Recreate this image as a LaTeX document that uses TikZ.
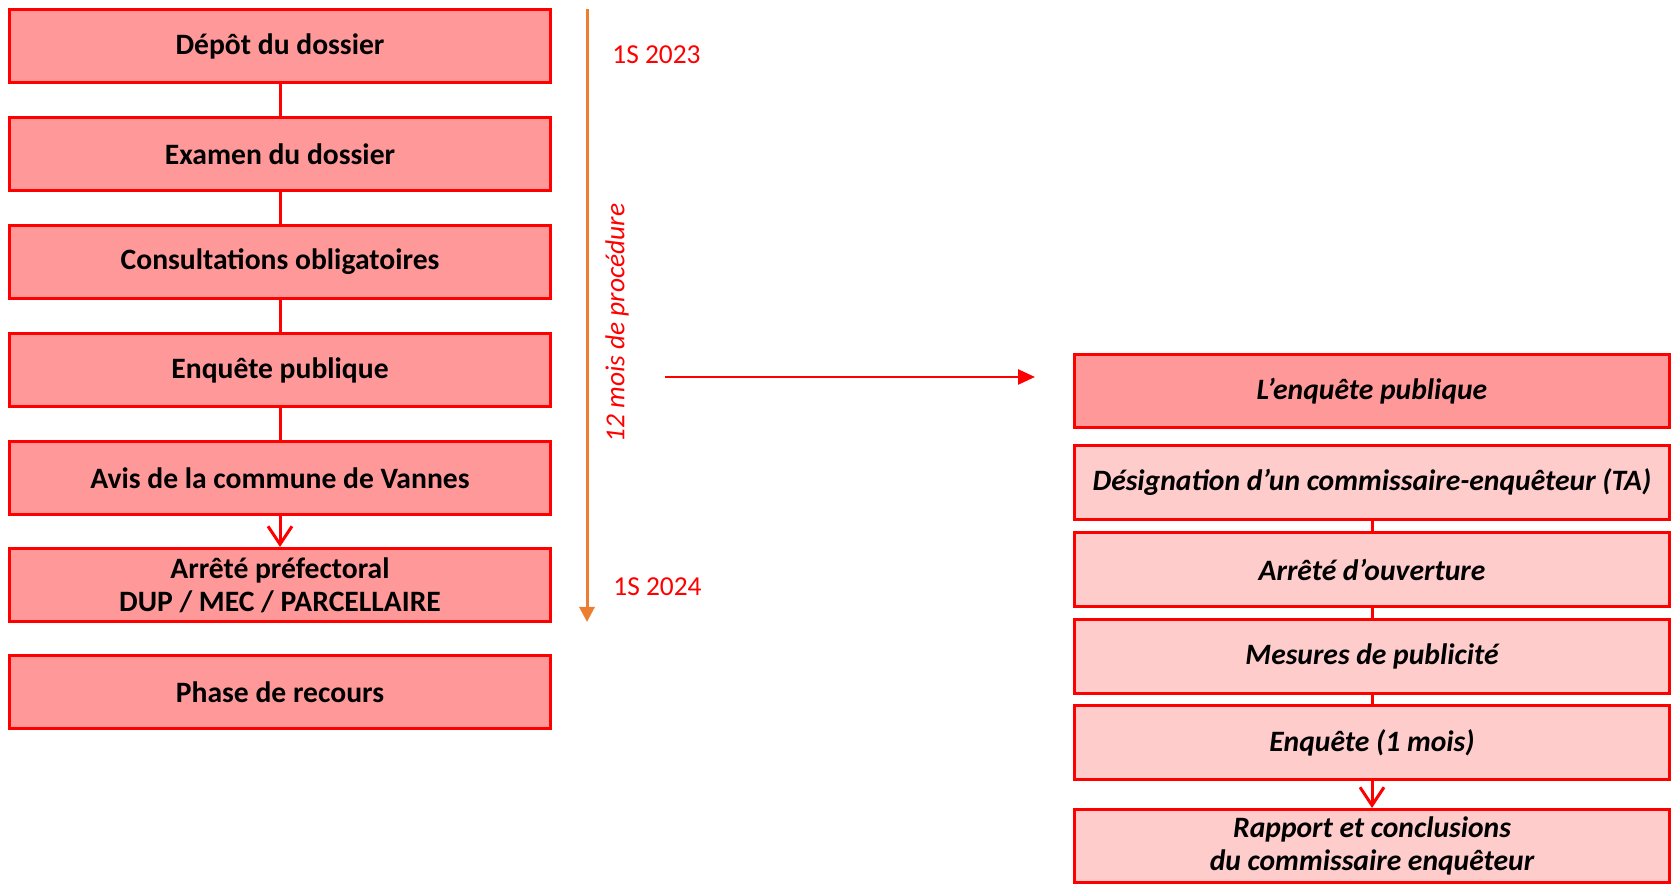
\documentclass[tikz,border=0pt]{standalone}
\usepackage{fontspec}
\setmainfont{Carlito}
\usetikzlibrary{arrows.meta}
\definecolor{rougeTrait}{RGB}{255,0,0}
\definecolor{roseFonce}{RGB}{255,153,153}
\definecolor{roseClair}{RGB}{255,204,204}
\definecolor{orangeDelai}{RGB}{237,125,49}
\tikzset{
  etape/.style={draw=rougeTrait, line width=1.5pt, fill=roseFonce, inner sep=0pt,
    minimum width=270.5pt, minimum height=36.5pt, align=center,
    font=\fontsize{14.8}{16.5}\selectfont\bfseries},
  sousetape/.style={etape, fill=roseClair, minimum width=297.5pt, minimum height=37pt,
    font=\fontsize{14.8}{16.5}\selectfont\bfseries\itshape},
  lien/.style={draw=rougeTrait, line width=1.5pt},
  lienfleche/.style={lien, -{Straight Barb[length=9pt,width=12pt]}},
  repere/.style={text=rougeTrait, inner sep=0pt, font=\fontsize{13.7}{16}\selectfont},
}
\begin{document}
\begin{tikzpicture}[x=0.5pt, y=-0.5pt]
    \useasboundingbox (0,0) rectangle (1672,886);
    \node[etape] (depot) at (280,46) {Dépôt du dossier};
    \node[etape] (examen) at (280,154) {Examen du dossier};
    \node[etape] (consult) at (280,262) {Consultations obligatoires};
    \node[etape] (enquete) at (280,370) {Enquête publique};
    \node[etape] (avis) at (280,478) {Avis de la commune de Vannes};
    \node[etape] (arrete) at (280,585) {Arrêté préfectoral\\DUP / MEC / PARCELLAIRE};
    \node[etape] (recours) at (280,692) {Phase de recours};
    \path (depot) edge[lien] (examen);
    \path (examen) edge[lien] (consult);
    \path (consult) edge[lien] (enquete);
    \path (enquete) edge[lien] (avis);
    \path (avis) edge[lienfleche] (arrete);
    % delai de procedure
    \coordinate (debutDelai) at (587,9);
    \coordinate (finDelai) at (587,622);
    \draw[orangeDelai, line width=1.5pt, -{Triangle[length=7.5pt,width=7.5pt]}] (debutDelai) -- (finDelai);
    \node[repere, anchor=west] (debut) at (612,55) {1S 2023};
    \node[repere, anchor=west] (fin) at (613,587) {1S 2024};
    \node[repere, rotate=90, font=\fontsize{13.7}{16}\selectfont\itshape] (duree) at (617,323) {12 mois de procédure};
    % detail de l'enquete publique
    \coordinate (debutZoom) at (665,377);
    \coordinate (finZoom) at (1035,377);
    \draw[lien, line width=1.25pt, -{Triangle[length=8.5pt,width=7.5pt]}] (debutZoom) -- (finZoom);
    \node[sousetape, fill=roseFonce, minimum height=36.5pt] (titreEP) at (1372,391) {L’enquête publique};
    \node[sousetape] (designation) at (1372,482.5) {Désignation d’un commissaire-enquêteur (TA)};
    \node[sousetape] (ouverture) at (1372,569.5) {Arrêté d’ouverture};
    \node[sousetape] (publicite) at (1372,656.5) {Mesures de publicité};
    \node[sousetape] (unmois) at (1372,742.5) {Enquête (1 mois)};
    \node[sousetape, minimum height=36.5pt] (rapport) at (1372,846) {Rapport et conclusions\\du commissaire enquêteur};
    \path (designation) edge[lien] (ouverture);
    \path (ouverture) edge[lien] (publicite);
    \path (publicite) edge[lien] (unmois);
    \path (unmois) edge[lienfleche] (rapport);
\end{tikzpicture}
\end{document}
